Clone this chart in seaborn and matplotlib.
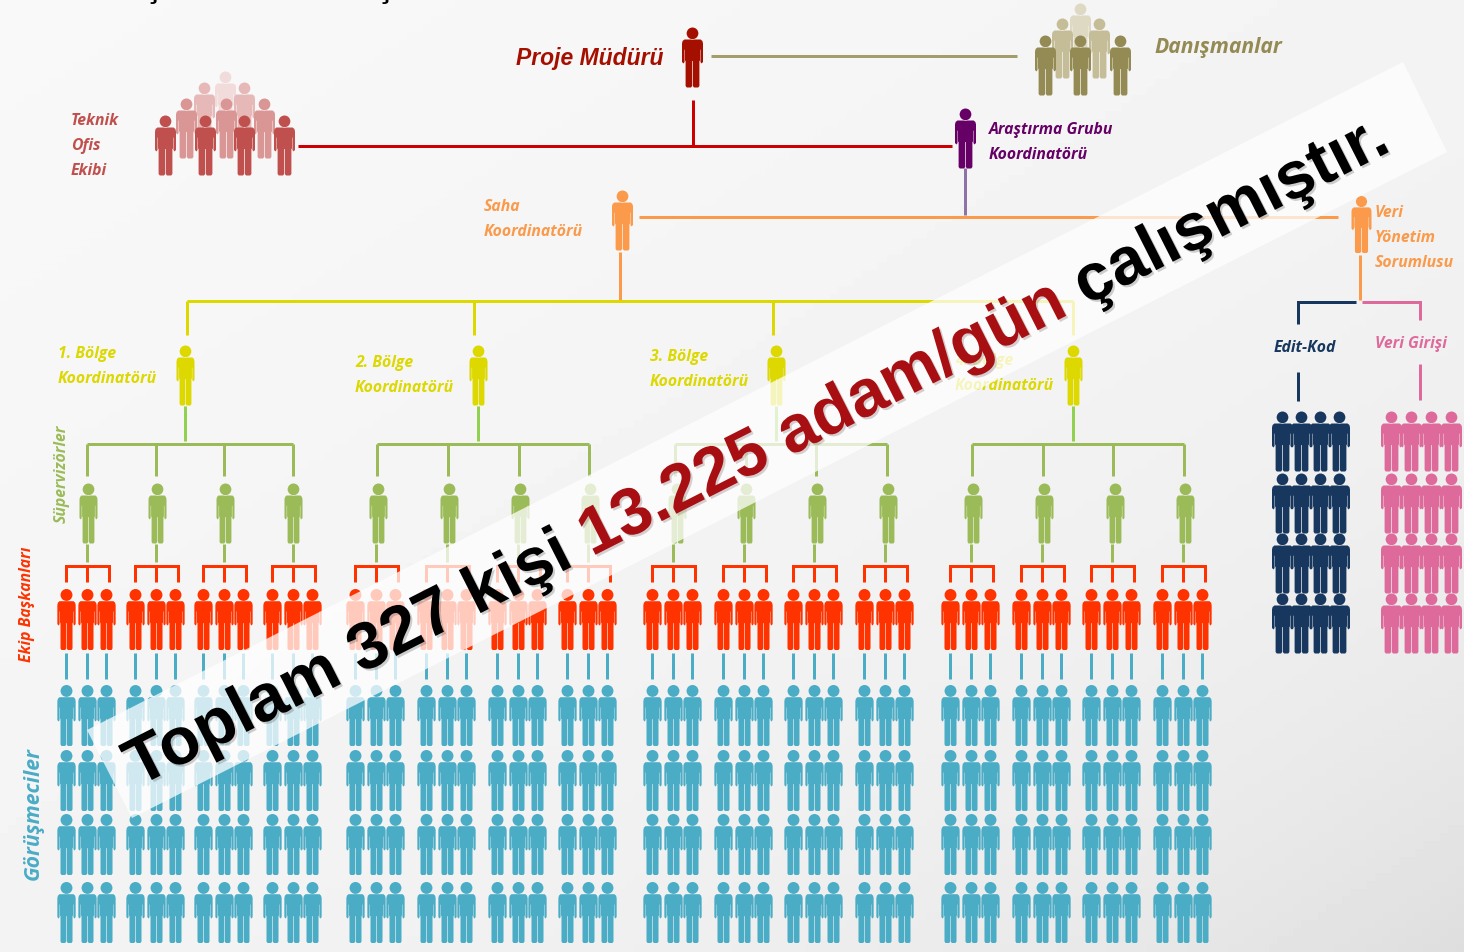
import numpy as np
import pandas as pd
import matplotlib
matplotlib.use("Agg")
import matplotlib.pyplot as plt
import matplotlib.patheffects as pe
import seaborn as sns
from matplotlib.path import Path
from matplotlib.patches import Polygon

# people per block of the org chart
region_names = ["1. Bölge", "2. Bölge", "3. Bölge", "4. Bölge"]
supervisors_per_region = [4, 4, 4, 4]
leaders_per_supervisor = [3, 3, 3, 3]
interviewers_per_leader = [4, 4, 4, 4]
edit_columns = [4, 4, 4, 4]
entry_columns = [4, 4, 4, 4]

banner_black_1 = "Toplam 327 kişi "
banner_red = "13.225 adam/gün"
banner_black_2 = " çalışmıştır."

RED, TEAL = "#ff3300", "#4bacc6"
GREEN, YELLOW = "#9bbb59", "#dcd800"
ORANGE, PURPLE = "#fa9a4a", "#660066"
NAVY, PINK = "#17375e", "#de6a9c"
DARKRED, BRICK, OLIVE = "#a50f00", "#c0504d", "#948a54"
SANS = "Open Sans"
BANNER_SIZE = 47.9

sns.set_theme(style="white")
plt.rcParams["font.family"] = [SANS, "DejaVu Sans"]


# person icon, 2 units tall, half_w sets how stocky it is
def person_path(half_w):
    k = half_w / 0.35
    right = [(0.27, 0.6), (0.33, 0.55), (0.35, 0.47), (0.35, -0.15), (0.3, -0.2), (0.265, -0.15),
             (0.265, 0.26), (0.25, 0.26), (0.25, -0.1), (0.23, -0.12), (0.23, -0.95), (0.19, -1.0),
             (0.05, -1.0), (0.012, -0.95), (0.012, -0.12)]
    right = [(x * k, y) for x, y in right]
    left = [(-x, y) for x, y in reversed(right)]
    verts = right + left + [right[0]]
    codes = [Path.MOVETO] + [Path.LINETO] * (len(verts) - 2) + [Path.CLOSEPOLY]
    body = Path(verts, codes)
    c = Path.unit_circle()
    head = Path(c.vertices * 0.195 + np.array([0, 0.805]), c.codes)
    return Path.make_compound_path(head, body)


NARROW = person_path(0.30)
WIDE = person_path(0.35)


def people(ax, xs, tops, color, marker=NARROW, h=60):
    df = pd.DataFrame({"x": xs, "y": np.array(tops) + h / 2})
    s = (h * 72 / 100) ** 2
    sns.scatterplot(data=df, x="x", y="y", ax=ax, marker=marker, s=s, color=color, linewidth=0, legend=False, zorder=3)


def line(ax, xs, ys, color, w=3):
    ax.plot(xs, ys, color=color, lw=w * 0.72, solid_capstyle="butt", solid_joinstyle="miter", zorder=2)


def label(ax, x, y, txt, color, size=11.3, **kw):
    ax.text(x, y, txt, color=color, fontsize=size, fontstyle="italic", fontweight="bold", va="center", zorder=4, **kw)


fig = plt.figure(figsize=(14.64, 9.52), dpi=100)
ax = fig.add_axes([0, 0, 1, 1])

# background
yy, xx = np.mgrid[0:1:120j, 0:1:180j]
tt = (xx + yy) / 2
grad = 0.975 - 0.04 * tt - 0.065 * tt ** 6
ax.imshow(grad, cmap="gray", vmin=0, vmax=1, extent=[0, 1464, 952, 0], aspect="auto", zorder=0)
ax.set_xlim(0, 1464)
ax.set_ylim(952, 0)
ax.axis("off")

# title line, only its lower edge is left in the picture
ax.text(94, -3, "Araştırma Ekibi Oluşumu ve Saha Alan Ekibi Tablosu", color="black", fontsize=22,
        fontweight="bold", va="baseline", family="Liberation Sans", zorder=4)

# top of the hierarchy
people(ax, [692], [27], DARKRED, WIDE)
label(ax, 516, 58, "Proje Müdürü", DARKRED, 16.5, family="Liberation Sans")
line(ax, [711, 1017], [56, 56], "#a59c6c")
line(ax, [693, 693], [100, 146], "#cc0000")
line(ax, [298, 952], [146, 146], "#cc0000")

# danismanlar
people(ax, [1080], [3], "#ddd9c3", WIDE)
people(ax, [1062, 1099], [18, 18], "#c4bd97", WIDE)
people(ax, [1045, 1080, 1120], [35, 35, 35], OLIVE, WIDE)
label(ax, 1154, 48, "Danışmanlar", OLIVE, 15.2)

# teknik ofis
people(ax, [225], [71], "#f2dcdb", WIDE)
people(ax, [204, 244], [82, 82], "#e6b9b8", WIDE)
people(ax, [186, 226, 264], [98, 98, 98], "#d99694", WIDE)
people(ax, [165, 205, 244, 284], [115] * 4, BRICK, WIDE)
for y, t in zip([121, 146, 171], ["Teknik", "Ofis", "Ekibi"]):
    label(ax, 71, y, t, BRICK)

# arastirma, saha, veri
people(ax, [965], [108], PURPLE, WIDE)
label(ax, 989, 130, "Araştırma Grubu", PURPLE)
label(ax, 989, 155, "Koordinatörü", PURPLE)
line(ax, [965, 965], [168, 215], "#8f72a6")
people(ax, [622], [190], ORANGE, WIDE)
label(ax, 484, 207, "Saha", ORANGE)
label(ax, 484, 232, "Koordinatörü", ORANGE)
line(ax, [639, 1338], [217, 217], ORANGE)
line(ax, [620, 620], [252, 301], ORANGE)
people(ax, [1361], [195], ORANGE, WIDE, 57)
for y, t in zip([213, 238, 263], ["Veri", "Yönetim", "Sorumlusu"]):
    label(ax, 1375, y, t, ORANGE)

# veri kolu
line(ax, [1360, 1360], [255, 300], ORANGE)
line(ax, [1298, 1298, 1356], [324, 302, 302], NAVY)
line(ax, [1362, 1420, 1420], [302, 302, 320], PINK)
label(ax, 1274, 348, "Edit-Kod", NAVY)
label(ax, 1375, 344, "Veri Girişi", PINK)
line(ax, [1298, 1298], [372, 401], NAVY)
line(ax, [1420, 1420], [364, 400], PINK)
row_tops = [411, 473, 533, 593]
for top in row_tops:
    people(ax, [1282 + 19 * i for i in range(edit_columns[0])], [top] * 4, NAVY, WIDE)
    people(ax, [1391 + 20 * i for i in range(entry_columns[0])], [top] * 4, PINK, WIDE)

# regions
coord_x = [185, 478, 776, 1073]
drop_x = [187, 474, 773, 1073]
label_pos = [(58, 354), (355, 363), (650, 357), (955, 361)]
sup_x = [[88, 157, 225, 293], [378, 449, 520, 590], [677, 746, 817, 888], [973, 1044, 1115, 1185]]
drop_sup = [[87, 156, 224, 293], [377, 448, 519, 589], [675, 746, 816, 887], [972, 1043, 1113, 1184]]
team_shift = [-0.5, -1, -2, -1]
inter_tops = [684, 749, 813, 881]

line(ax, [187, 1073], [301, 301], YELLOW)
for r, name in enumerate(region_names):
    line(ax, [drop_x[r], drop_x[r]], [301, 335], YELLOW)
    people(ax, [coord_x[r]], [345], YELLOW)
    lx, ly = label_pos[r]
    label(ax, lx, ly, name, YELLOW)
    label(ax, lx, ly + 25, "Koordinatörü", YELLOW)

    line(ax, [coord_x[r], coord_x[r]], [406, 441], "#92d050")
    line(ax, [drop_sup[r][0], drop_sup[r][-1]], [444, 444], GREEN)
    for s in range(supervisors_per_region[r]):
        dx = drop_sup[r][s]
        sx = sup_x[r][s]
        cx = dx + team_shift[r]
        line(ax, [dx, dx], [444, 476], GREEN)
        people(ax, [sx], [483], GREEN)
        line(ax, [cx, cx], [544, 562], GREEN)
        # red bracket
        line(ax, [cx - 21, cx - 21, cx + 22, cx + 22], [582, 566, 566, 582], RED)
        line(ax, [cx, cx], [566, 582], RED)
        leader_x = [cx + o for o in [-21, 0, 19][:leaders_per_supervisor[r]]]
        people(ax, leader_x, [588] * 3, RED, h=61)
        for lx2 in leader_x:
            line(ax, [lx2, lx2], [653, 679], TEAL)
            for top in inter_tops[:interviewers_per_leader[r]]:
                people(ax, [lx2], [top], TEAL, h=61)

# rotated side labels
label(ax, 62, 474, "Süpervizörler", GREEN, rotation=90, ha="center")
label(ax, 27, 604, "Ekip Başkanları", RED, rotation=90, ha="center")
label(ax, 33, 814, "Görüşmeciler", TEAL, 15.2, rotation=90, ha="center")

# banner over everything
ax.add_patch(Polygon([(87, 730), (1403, 62), (1447, 152), (132, 818)], closed=True, fc="white", ec="none", alpha=0.74, zorder=5))
angle = np.arctan2(668, 1316)
fig.canvas.draw()
rend = fig.canvas.get_renderer()
px, py = 138.0, 787.0
shadow = [pe.SimplePatchShadow(offset=(1.5, -1.5), alpha=0.18), pe.Normal()]
for txt, col in [(banner_black_1, "black"), (banner_red, "#a80f12"), (banner_black_2, "black")]:
    t = ax.text(px, py, txt, color=col, fontsize=BANNER_SIZE, fontweight="bold", family="Liberation Sans",
                rotation=0, rotation_mode="anchor", ha="left", va="baseline", zorder=6, path_effects=shadow)
    w = t.get_window_extent(rend).width
    t.set_rotation(np.degrees(angle))
    px += w * np.cos(angle)
    py -= w * np.sin(angle)

fig.savefig("out.png", dpi=100)
